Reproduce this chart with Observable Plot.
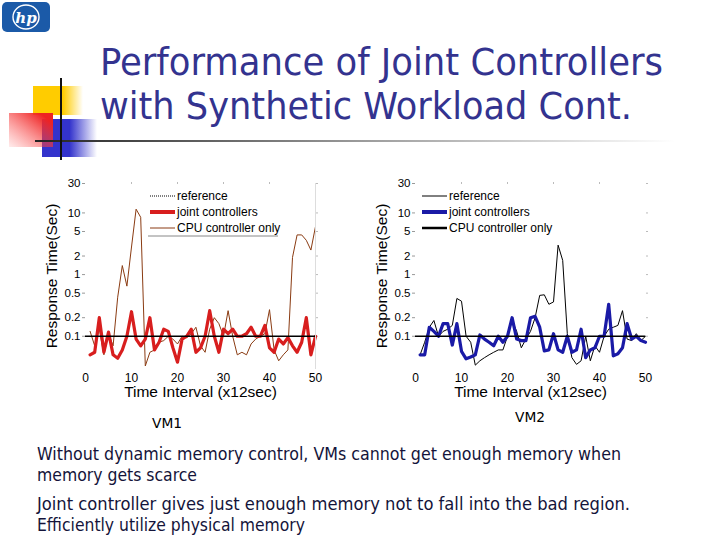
<!DOCTYPE html>
<html>
<head>
<meta charset="utf-8">
<script src="https://cdn.jsdelivr.net/npm/d3@7"></script>
<script src="https://cdn.jsdelivr.net/npm/@observablehq/plot@0.6"></script>
<style>
  html, body { margin:0; padding:0; background:#fff; }
  #slide { position:relative; width:720px; height:540px; overflow:hidden; background:#fff; }
  .abs { position:absolute; left:0; top:0; }
</style>
</head>
<body>
<div id="slide">
  <svg class="abs" id="deco" width="720" height="540"></svg>
  <div class="abs" id="c1" style="left:0px;top:170px;"></div>
  <div class="abs" id="c2" style="left:330px;top:170px;"></div>
  <svg class="abs" id="over" width="720" height="540"></svg>
</div>
<script>
// ---------- data ----------
const intervals = d3.range(1, 51); // time interval index (x12 sec)
const referenceLevel = 0.1;
const yTicks = [0.1, 0.2, 0.5, 1, 2, 5, 10, 30];
const xTicks = [0, 10, 20, 30, 40, 50];

const vm1Joint = [0.05,0.055,0.2,0.055,0.117,0.05,0.044,0.06,0.1,0.25,
                  0.09,0.07,0.09,0.2,0.06,0.08,0.13,0.12,0.065,0.038,
                  0.09,0.1,0.13,0.055,0.065,0.1,0.26,0.1,0.055,0.13,
                  0.11,0.13,0.1,0.1,0.11,0.14,0.1,0.1,0.15,0.065,
                  0.055,0.09,0.075,0.095,0.07,0.055,0.08,0.2,0.05,0.1];
const vm1Cpu   = [0.12,0.07,0.13,0.05,0.11,0.07,0.43,1.4,0.65,2.8,
                  11.5,8.5,0.033,0.055,0.06,0.08,0.085,0.1,0.09,0.075,
                  0.1,0.095,0.11,0.14,0.07,0.055,0.13,0.2,0.16,0.1,
                  0.26,0.1,0.05,0.055,0.05,0.075,0.09,0.1,0.11,0.27,
                  0.06,0.04,0.05,0.06,1.9,4.4,4.4,3.6,2.5,6];
const vm2Joint = [0.05,0.05,0.14,0.12,0.1,0.16,0.16,0.072,0.16,0.057,
                  0.043,0.046,0.05,0.105,0.09,0.08,0.07,0.1,0.08,0.1,
                  0.2,0.09,0.085,0.085,0.2,0.21,0.14,0.058,0.06,0.11,
                  0.06,0.055,0.1,0.055,0.06,0.13,0.045,0.06,0.065,0.1,
                  0.1,0.33,0.048,0.052,0.065,0.16,0.09,0.1,0.085,0.08];
const vm2Cpu   = [0.05,0.08,0.14,0.18,0.1,0.12,0.13,0.15,0.41,0.37,
                  0.1,0.08,0.034,0.04,0.045,0.05,0.055,0.06,0.06,0.1,
                  0.18,0.12,0.065,0.09,0.12,0.2,0.46,0.47,0.33,0.36,
                  3.0,1.7,0.11,0.045,0.035,0.04,0.1,0.04,0.07,0.055,
                  0.1,0.13,0.14,0.15,0.26,0.09,0.085,0.11,0.085,0.1];

const seriesNames = ["reference", "joint controllers", "CPU controller only"];
const titleLines = ["Performance of Joint Controllers", "with Synthetic Workload Cont."];
const bulletLines = [
  "Without dynamic memory control, VMs cannot get enough memory when",
  "memory gets scarce",
  "Joint controller gives just enough memory not to fall into the bad region.",
  "Efficiently utilize physical memory"
];

// ---------- charts ----------
function table(vals){ return intervals.map((t,i)=>({t, v: vals[i]})); }

function makeChart(joint, cpu, jointColor, cpuColor, cpuWidth, rightFrame){
  const marks = [
    Plot.axisX({ticks: xTicks, tickSize: 0, tickPadding: 5, fontSize: 12, label: null}),
    Plot.axisX({anchor: "top", ticks: [10,20,30,40], tickSize: 2, stroke: "#bbb", tickFormat: () => "", label: null}),
    Plot.axisY({ticks: yTicks, tickSize: 3, stroke: "#999", tickFormat: () => "", label: null}),
    Plot.axisY({anchor: "right", ticks: yTicks, tickSize: 2, stroke: "#bbb", tickFormat: () => "", label: null}),
    Plot.text(yTicks, {y: d => d, text: d => String(d), frameAnchor: "left", textAnchor: "end", dx: -5, fontSize: 11.5}),
    Plot.text(["Time Interval (x12sec)"], {frameAnchor: "bottom", lineAnchor: "middle", dy: 24, fontSize: 15.5}),
    Plot.text(["Response Time(Sec)"], {frameAnchor: "left", textAnchor: "middle", rotate: -90, dx: -33, fontSize: 15.5}),
    Plot.line(table(cpu), {x: "t", y: "v", stroke: cpuColor, strokeWidth: cpuWidth}),
    Plot.line(table(joint), {x: "t", y: "v", stroke: jointColor, strokeWidth: 3.2}),
    Plot.ruleY([referenceLevel], {stroke: "#000", strokeWidth: 1.3})
  ];
  if (rightFrame) marks.push(Plot.frame({anchor: "right", stroke: "#ddd"}));
  return Plot.plot({
    width: 340, height: 240,
    marginLeft: 85, marginRight: 25, marginTop: 13, marginBottom: 42,
    x: {domain: [0, 50]},
    y: {type: "log", domain: [0.03, 30]},
    style: {fontFamily: "'Liberation Sans', Arial, sans-serif", color: "#000", background: "transparent", overflow: "visible"},
    marks
  });
}
document.getElementById("c1").appendChild(makeChart(vm1Joint, vm1Cpu, "#d81e1e", "#8a3b12", 1, true));
document.getElementById("c2").appendChild(makeChart(vm2Joint, vm2Cpu, "#1a1aa6", "#000", 1, false));

// ---------- slide decoration & text ----------
const NS = "http://www.w3.org/2000/svg";
function el(parent, tag, attrs, text){
  const e = document.createElementNS(NS, tag);
  for (const k in attrs) e.setAttribute(k, attrs[k]);
  if (text != null) e.textContent = text;
  parent.appendChild(e); return e;
}
const deco = document.getElementById("deco");
const defs = el(deco, "defs", {});
let g = el(defs, "linearGradient", {id:"gy", x1:0, x2:1, y1:0, y2:0});
el(g, "stop", {offset:"0", "stop-color":"#ffcc00"});
el(g, "stop", {offset:"0.6", "stop-color":"#ffcc00"});
el(g, "stop", {offset:"1", "stop-color":"#ffcc00", "stop-opacity":0});
g = el(defs, "linearGradient", {id:"gb", x1:0, x2:1, y1:0, y2:0});
el(g, "stop", {offset:"0", "stop-color":"#3333cc"});
el(g, "stop", {offset:"0.5", "stop-color":"#3333cc"});
el(g, "stop", {offset:"1", "stop-color":"#3333cc", "stop-opacity":0});
g = el(defs, "linearGradient", {id:"gr", x1:0, x2:1, y1:1, y2:0});
el(g, "stop", {offset:"0", "stop-color":"#ff6060", "stop-opacity":0.12});
el(g, "stop", {offset:"0.85", "stop-color":"#ee2222"});
el(g, "stop", {offset:"1", "stop-color":"#ee2222"});
g = el(defs, "linearGradient", {id:"gl", x1:0, x2:1, y1:0, y2:0});
el(g, "stop", {offset:"0", "stop-color":"#222"});
el(g, "stop", {offset:"0.5", "stop-color":"#999"});
el(g, "stop", {offset:"1", "stop-color":"#fff"});

// hp logo
el(deco, "rect", {x:2, y:2, width:48, height:30, rx:5, fill:"#1b5aa8"});
el(deco, "ellipse", {cx:26, cy:17, rx:13, ry:12, fill:"none", stroke:"#fff", "stroke-width":1.4});
el(deco, "text", {x:26, y:22.5, "text-anchor":"middle", fill:"#fff", "font-family":"'DejaVu Serif', serif",
  "font-style":"italic", "font-weight":"bold", "font-size":15}, "hp");

el(deco, "rect", {x:33, y:86, width:50, height:29, fill:"url(#gy)"});
el(deco, "rect", {x:42, y:119, width:55, height:38, fill:"url(#gb)"});
el(deco, "rect", {x:9, y:113, width:44, height:34, fill:"url(#gr)"});
el(deco, "rect", {x:35, y:140, width:640, height:2, fill:"url(#gl)"});
el(deco, "rect", {x:60, y:78, width:2, height:82, fill:"#111"});

const titleFont = "'DejaVu Sans Condensed', 'DejaVu Sans', sans-serif";
el(deco, "text", {x:100, y:75, fill:"#33338f", "font-family":titleFont, "font-size":37,
  textLength:563, lengthAdjust:"spacingAndGlyphs"}, titleLines[0]);
el(deco, "text", {x:100, y:119, fill:"#33338f", "font-family":titleFont, "font-size":37,
  textLength:532, lengthAdjust:"spacingAndGlyphs"}, titleLines[1]);

const bodyFont = "'DejaVu Sans Condensed', 'DejaVu Sans', sans-serif";
el(deco, "text", {x:152, y:428, fill:"#000", "font-family":bodyFont, "font-size":14, textLength:30, lengthAdjust:"spacingAndGlyphs"}, "VM1");
el(deco, "text", {x:515, y:422, fill:"#000", "font-family":bodyFont, "font-size":14, textLength:30, lengthAdjust:"spacingAndGlyphs"}, "VM2");
const bl = [[460, 584], [481, 160], [510, 593], [531, 268]];
bulletLines.forEach((s, i) => {
  el(deco, "text", {x:37, y:bl[i][0], fill:"#14143a", "font-family":bodyFont, "font-size":17,
    textLength:bl[i][1], lengthAdjust:"spacingAndGlyphs"}, s);
});

// ---------- legends ----------
const over = document.getElementById("over");
function legend(x0, y0, styles, underline){
  styles.forEach((s, i) => {
    const y = y0 + i * 16;
    const a = {x1:x0, x2:x0+25, y1:y, y2:y, stroke:s.color, "stroke-width":s.w};
    if (s.dash) a["stroke-dasharray"] = s.dash;
    el(over, "line", a);
    el(over, "text", {x:x0+27, y:y+4, "font-family":"'Liberation Sans', Arial, sans-serif", "font-size":12, fill:"#000"}, seriesNames[i]);
  });
  if (underline) el(over, "line", {x1:x0-2, x2:x0+128, y1:y0+40, y2:y0+40, stroke:"#888", "stroke-width":1});
}
legend(150, 196, [{color:"#000", w:1, dash:"1,1"}, {color:"#d81e1e", w:4}, {color:"#8a3b12", w:1}], true);
legend(422, 196, [{color:"#000", w:1}, {color:"#1a1aa6", w:4}, {color:"#000", w:2.5}], false);
</script>
</body>
</html>
